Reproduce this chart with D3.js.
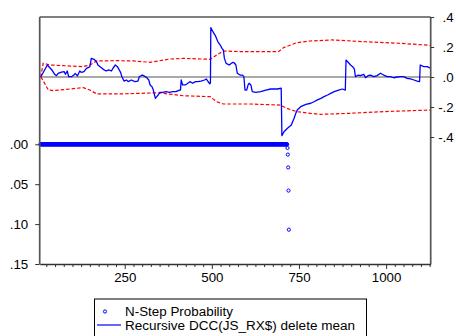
<!DOCTYPE html>
<html><head><meta charset="utf-8">
<script src="https://cdn.jsdelivr.net/npm/d3@7/dist/d3.min.js"></script>
<style>
body{margin:0;background:#fff;}
svg{display:block;font-family:"Liberation Sans",Arial,sans-serif;}
</style></head>
<body><svg id="chart" width="456" height="336"></svg>
<script>
// Recursive estimate (right axis)
const recursive = [
[9,0.0],[28,0.08],[35,0.062],[41,0.047],[49,0.018],[54,0.009],[59,0.024],[66,0.031],[76,0.036],[80,0.018],
[85,0.04],[89,0.002],[97,0.002],[104,0.013],[108,0.024],[114,0.007],[121,0.04],[125,0.031],[133,0.036],[140,0.058],
[145,0.062],[150,0.069],[154,0.124],[162,0.118],[169,0.102],[173,0.08],[183,0.062],[191,0.047],[197,0.04],[204,0.047],
[212,0.04],[216,0.058],[223,0.08],[229,0.069],[233,0.053],[238,0.031],[242,0.002],[248,-0.027],[255,-0.02],[260,-0.031],
[269,-0.02],[279,-0.031],[288,-0.027],[292,0.002],[300,0.013],[306,0.007],[313,-0.004],[319,-0.02],[323,-0.053],[328,-0.064],
[332,-0.087],[338,-0.142],[342,-0.131],[346,-0.12],[351,-0.102],[359,-0.102],[369,-0.098],[378,-0.102],[388,-0.098],[397,-0.098],
[407,-0.087],[410,-0.087],[412,-0.02],[416,-0.053],[424,-0.053],[431,-0.042],[437,-0.031],[445,-0.042],[453,-0.031],[459,-0.031],
[469,-0.027],[479,-0.02],[484,-0.013],[489,-0.03],[494,-0.045],[496,-0.04],[497,0.329],[503,0.302],[510,0.276],[517,0.236],
[524,0.213],[529,0.191],[533,0.18],[536,0.124],[541,0.091],[550,0.08],[560,0.098],[564,0.095],[569,0.08],[573,0.025],
[581,0.013],[588,0.013],[592,0.002],[595,-0.087],[600,-0.087],[604,-0.053],[607,-0.042],[612,-0.053],[616,-0.098],[626,-0.102],
[640,-0.098],[655,-0.087],[669,-0.08],[688,-0.08],[699,-0.075],[701,-0.391],[707,-0.365],[717,-0.342],[728,-0.32],[736,-0.275],
[741,-0.242],[745,-0.22],[755,-0.198],[770,-0.182],[784,-0.175],[793,-0.165],[803,-0.153],[813,-0.142],[822,-0.131],[832,-0.12],
[841,-0.109],[851,-0.098],[864,-0.087],[874,-0.08],[883,-0.087],[885,0.113],[891,0.098],[898,0.08],[904,0.069],[909,0.053],
[912,0.002],[920,0.013],[926,0.009],[936,0.018],[941,-0.005],[948,0.009],[955,0.013],[965,0.002],[974,0.009],[984,0.025],
[993,0.013],[1003,0.002],[1012,0.002],[1022,-0.005],[1032,0],[1041,0.002],[1051,0.002],[1060,-0.009],[1070,-0.013],[1080,-0.02],
[1089,-0.027],[1096,-0.031],[1098,0.08],[1108,0.069],[1118,0.069],[1124,0.062],[1128,0.058]
];
// Upper and lower +/- 2 S.E. bands (right axis)
const upperBand = [
[9,0.0],[16,0.091],[36,0.08],[131,0.069],[150,0.08],[170,0.107],[227,0.109],[275,0.107],[323,0.098],[380,0.12],
[418,0.124],[495,0.118],[514,0.147],[533,0.173],[590,0.169],[691,0.169],[705,0.195],[744,0.229],[782,0.24],[845,0.247],
[941,0.235],[1037,0.225],[1128,0.211]
];
const lowerBand = [
[9,0.0],[12,-0.009],[31,-0.087],[45,-0.091],[84,-0.082],[131,-0.071],[150,-0.087],[170,-0.113],[227,-0.113],[294,-0.109],
[346,-0.105],[418,-0.125],[495,-0.131],[514,-0.165],[533,-0.18],[610,-0.18],[696,-0.187],[715,-0.209],[744,-0.231],[782,-0.242],
[811,-0.249],[897,-0.242],[992,-0.231],[1128,-0.22]
];
// N-step probability (left axis): observations 8..716 read as 0, then the last few
const probZeroRun = {from: 8, to: 716, p: 0};
const probTail = [[717,0.0046],[718,0.0129],[719,0.029],[720,0.058],[721,0.107]];

const xMajor = [250, 500, 750, 1000];
const rightTicks = [0.4, 0.2, 0, -0.2, -0.4];
const rightTickLabels = [".4", ".2", ".0", "-.2", "-.4"];
const leftTicks = [0, 0.05, 0.10, 0.15];
const leftTickLabels = [".00", ".05", ".10", ".15"];
const legendLabels = ["N-Step Probability", "Recursive DCC(JS_RX$) delete mean"];

const svg = d3.select("#chart");
const L = 39.7, R = 430.7, T = 17, B = 264;
const x = d3.scaleLinear().domain([6, 1128]).range([L, R]);
const yR = d3.scaleLinear().domain([-0.4, 0.4]).range([137, 17]);
const yL = d3.scaleLinear().domain([0, 0.15]).range([144.3, 264]);

const FS = "13.3px";

// zero line
svg.append("line").attr("x1", L).attr("x2", R).attr("y1", yR(0)).attr("y2", yR(0))
  .attr("stroke", "#555").attr("stroke-width", 1.1);

// bands
const lineR = d3.line().x(d => x(d[0])).y(d => yR(d[1]));
[upperBand, lowerBand].forEach(b => {
  svg.append("path").datum(b).attr("d", lineR).attr("fill", "none")
    .attr("stroke", "#ff0000").attr("stroke-width", 1.2).attr("stroke-dasharray", "3.5,2");
});
// recursive line
svg.append("path").datum(recursive).attr("d", lineR).attr("fill", "none")
  .attr("stroke", "#0000ff").attr("stroke-width", 1.3).attr("stroke-linejoin", "round");

// probability circles
const probData = d3.range(probZeroRun.from, probZeroRun.to + 1).map(t => [t, probZeroRun.p]).concat(probTail);
svg.append("g").selectAll("circle").data(probData).join("circle")
  .attr("cx", d => x(d[0])).attr("cy", d => yL(d[1])).attr("r", 1.6)
  .attr("fill", "none").attr("stroke", "#0000ff").attr("stroke-width", 1);

// frame top
svg.append("line").attr("x1", L).attr("x2", R).attr("y1", T).attr("y2", T).attr("stroke", "#000").attr("stroke-width", 1);

// bottom axis: minor ticks
const minor = d3.range(25, 1128, 25).filter(v => !xMajor.includes(v));
const gx = svg.append("g").attr("transform", `translate(0,${B})`);
gx.call(d3.axisBottom(x).tickValues(minor).tickSize(3).tickFormat("").tickSizeOuter(0));
const gx2 = svg.append("g").attr("transform", `translate(0,${B})`);
gx2.call(d3.axisBottom(x).tickValues(xMajor).tickSize(5).tickPadding(4).tickFormat(d3.format("d")).tickSizeOuter(0));
[gx, gx2].forEach(g => {
  g.select(".domain").attr("stroke", "#333").attr("stroke-width", 1.3);
  g.selectAll(".tick line").attr("stroke", "#333");
  g.selectAll("text").attr("font-size", FS).attr("fill", "#000").attr("font-family", "Liberation Sans, Arial, sans-serif");
});
gx2.select(".domain").remove();

// left axis
const gl = svg.append("g").attr("transform", `translate(${L},0)`);
gl.call(d3.axisLeft(yL).tickValues(leftTicks).tickSize(4.5).tickPadding(7)
  .tickFormat((d, i) => leftTickLabels[i]).tickSizeOuter(0));
gl.select(".domain").attr("d", `M0,${T}V${B}`).attr("stroke", "#555").attr("stroke-width", 1.7);
gl.selectAll(".tick line").attr("stroke", "#333");
gl.selectAll("text").attr("font-size", FS).attr("fill", "#000").attr("font-family", "Liberation Sans, Arial, sans-serif");

// right axis
const gr = svg.append("g").attr("transform", `translate(${R},0)`);
gr.call(d3.axisRight(yR).tickValues(rightTicks).tickSize(3.5).tickFormat((d, i) => rightTickLabels[i]).tickSizeOuter(0));
gr.select(".domain").attr("d", `M0,${T}V${B}`).attr("stroke", "#555").attr("stroke-width", 1.7);
gr.selectAll(".tick line").attr("stroke", "#333");
gr.selectAll("text").attr("font-size", FS).attr("fill", "#000").attr("font-family", "Liberation Sans, Arial, sans-serif")
  .attr("text-anchor", "end").attr("x", 23);

// legend
const lg = svg.append("g");
lg.append("rect").attr("x", 94.5).attr("y", 299).attr("width", 272).attr("height", 50)
  .attr("fill", "#fff").attr("stroke", "#000").attr("stroke-width", 1);
lg.append("circle").attr("cx", 105).attr("cy", 311.5).attr("r", 1.6)
  .attr("fill", "none").attr("stroke", "#0000ff").attr("stroke-width", 1);
lg.append("line").attr("x1", 97).attr("x2", 121).attr("y1", 325).attr("y2", 325)
  .attr("stroke", "#0000ff").attr("stroke-width", 1.2);
lg.selectAll("text.lab").data(legendLabels).join("text").attr("class", "lab")
  .attr("x", 125).attr("y", (d, i) => 315.5 + i * 14).attr("font-size", "12px")
  .attr("textLength", (d, i) => i === 0 ? 108 : 230).attr("lengthAdjust", "spacingAndGlyphs")
  .attr("fill", "#000")
  .text(d => d);
</script></body></html>
